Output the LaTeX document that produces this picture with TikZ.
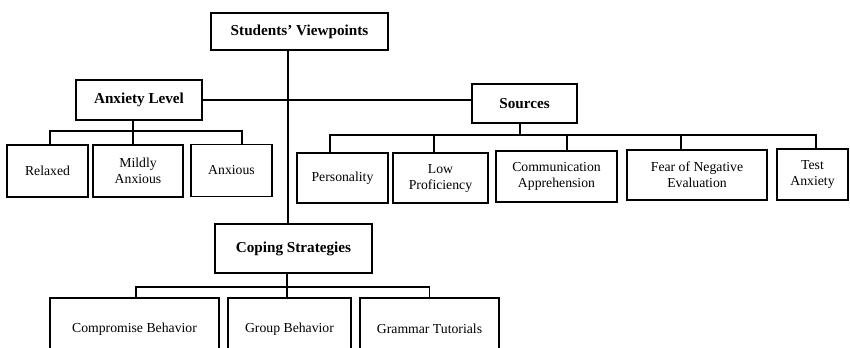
\documentclass[tikz,border=0pt]{standalone}
\usepackage{fontspec}
\setmainfont{Liberation Serif}
\tikzset{
  box/.style 2 args={draw, line width=1.4pt, minimum width=#1*0.75pt, minimum height=#2*0.75pt,
    inner sep=2pt, align=center, font=\fontsize{10.3}{12}\selectfont},
  title/.style={font=\fontsize{11.4}{13}\selectfont\bfseries},
  link/.style={line width=1.4pt},
}
\begin{document}
\begin{tikzpicture}[x=0.75pt,y=-0.75pt]
    \clip (0,0) rectangle (850,347);

    % 顶层
    \node[box={177}{37}, title] (view) at (299.5,31.5) {Students’ Viewpoints};
    \node[box={126}{40}, title] (anx) at (139,100) {Anxiety Level};
    \node[box={105}{39}, title] (src) at (524.5,103.5) {Sources};
    \node[box={157}{49}, title] (cop) at (293.5,248.5) {Coping Strategies};

    % 主干
    \coordinate (trunk) at (288,0);
    \draw[link] (view.south -| trunk) -- (cop.north -| trunk);
    \draw[link] (anx.east) -- (anx.east -| src.west);

    % 焦虑程度
    \node[box={81}{52}] (relaxed) at (47.5,171) {Relaxed};
    \node[box={90}{52}] (mildly) at (138,171) {Mildly\\Anxious};
    \node[box={81}{52}] (anxious) at (231.5,170.5) {Anxious};
    \coordinate (b1) at (0,131);
    \coordinate (a1) at ([xshift=1.9pt]relaxed.north);
    \coordinate (a2) at ([xshift=-3.75pt]mildly.north);
    \coordinate (a3) at ([xshift=7.9pt]anxious.north);
    \draw[link] (a1) -- (a1 |- b1) -| (a3);
    \draw[link] (anx.south -| a2) -- (a2);

    % 来源
    \node[box={91}{50}] (pers) at (342.5,178) {Personality};
    \node[box={95}{50}] (lowp) at (440.5,178) {Low\\Proficiency};
    \node[box={121}{51}] (comm) at (556.5,176.5) {Communication\\Apprehension};
    \node[box={140}{50}] (fear) at (697,175) {Fear of Negative\\Evaluation};
    \node[box={71}{51}] (test) at (812.5,174.5) {Test\\Anxiety};
    \coordinate (b2) at (0,135);
    \coordinate (s1) at ([xshift=-9.4pt]pers.north);
    \coordinate (s2) at ([xshift=-4.9pt]lowp.north);
    \coordinate (s3) at ([xshift=7.9pt]comm.north);
    \coordinate (s4) at ([xshift=-12pt]fear.north);
    \coordinate (s5) at ([xshift=2.6pt]test.north);
    \draw[link] (s1) -- (s1 |- b2) -| (s5);
    \foreach \d in {s2,s3,s4}
        \draw[link] (\d) -- (\d |- b2);
    \coordinate (s0) at ([xshift=-3.4pt]src.south);
    \draw[link] (s0) -- (s0 |- b2);

    % 应对策略
    \node[box={169}{62}] (comp) at (134.5,329) {Compromise Behavior};
    \node[box={123}{62}] (grp) at (289.5,329) {Group Behavior};
    \node[box={139}{62}] (gram) at (429.5,329) {Grammar Tutorials};
    \coordinate (b3) at (0,287);
    \coordinate (c1) at ([xshift=1.1pt]comp.north);
    \coordinate (c2) at ([xshift=-1.9pt]grp.north);
    \coordinate (c3) at (gram.north);
    \draw[link] (c1) -- (c1 |- b3) -| (c3);
    \draw[link] (cop.south -| c2) -- (c2);
\end{tikzpicture}
\end{document}
